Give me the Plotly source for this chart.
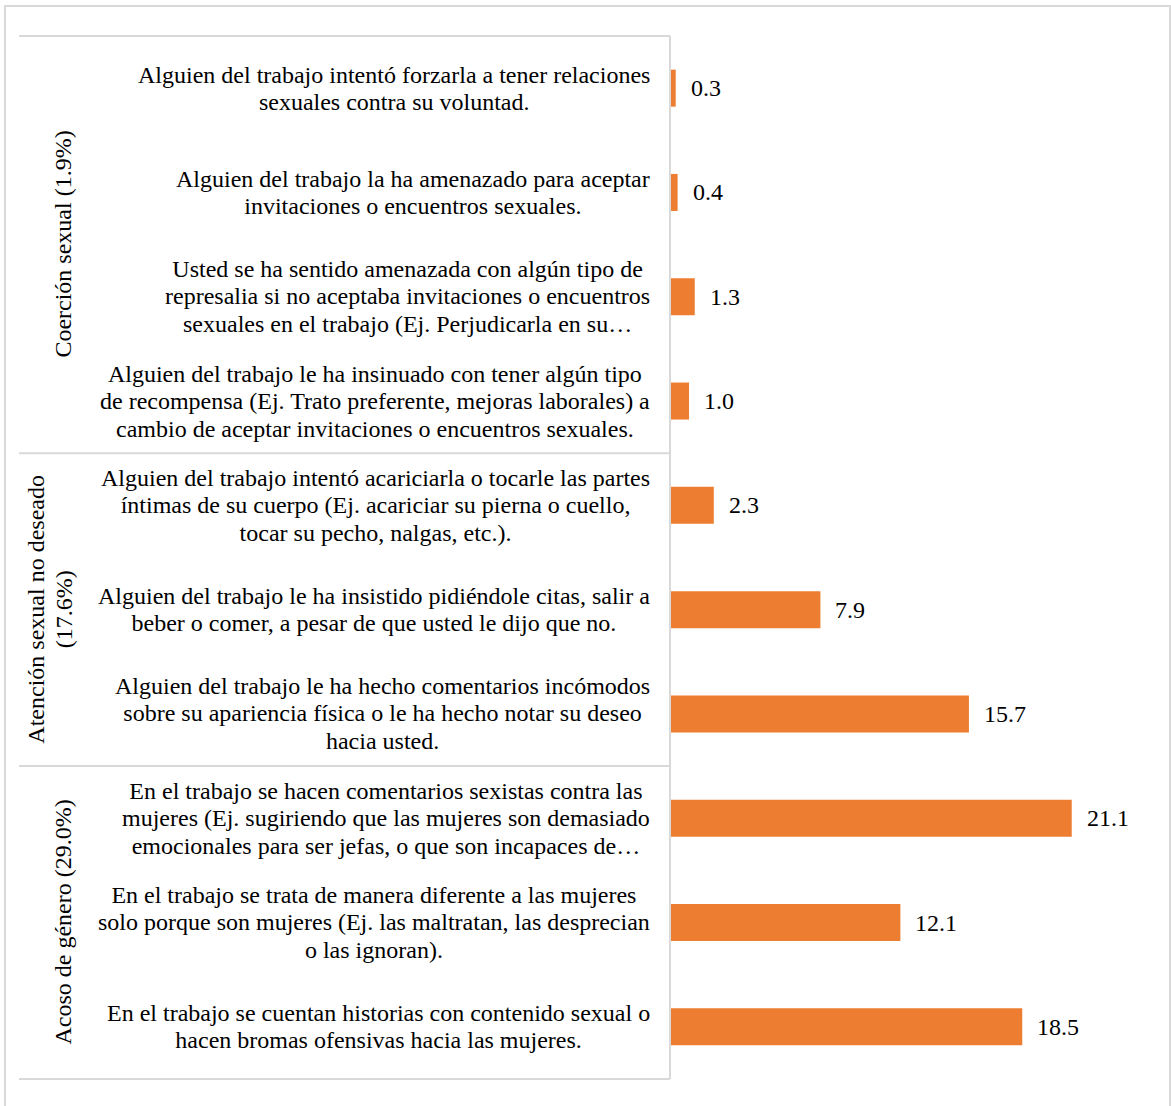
import plotly.graph_objects as go

# Survey items (top to bottom) and the share of women reporting each one (%)
items = [
    "Alguien del trabajo intentó forzarla a tener relaciones<br>sexuales contra su voluntad.",
    "Alguien del trabajo la ha amenazado para aceptar<br>invitaciones o encuentros sexuales.",
    "Usted se ha sentido amenazada con algún tipo de<br>represalia si no aceptaba invitaciones o encuentros<br>sexuales en el trabajo (Ej. Perjudicarla en su…",
    "Alguien del trabajo le ha insinuado con tener algún tipo<br>de recompensa (Ej. Trato preferente, mejoras laborales) a<br>cambio de aceptar invitaciones o encuentros sexuales.",
    "Alguien del trabajo intentó acariciarla o tocarle las partes<br>íntimas de su cuerpo (Ej. acariciar su pierna o cuello,<br>tocar su pecho, nalgas, etc.).",
    "Alguien del trabajo le ha insistido pidiéndole citas, salir a<br>beber o comer, a pesar de que usted le dijo que no.",
    "Alguien del trabajo le ha hecho comentarios incómodos<br>sobre su apariencia física o le ha hecho notar su deseo<br>hacia usted.",
    "En el trabajo se hacen comentarios sexistas contra las<br>mujeres (Ej. sugiriendo que las mujeres son demasiado<br>emocionales para ser jefas, o que son incapaces de…",
    "En el trabajo se trata de manera diferente a las mujeres<br>solo porque son mujeres (Ej. las maltratan, las desprecian<br>o las ignoran).",
    "En el trabajo se cuentan historias con contenido sexual o<br>hacen bromas ofensivas hacia las mujeres.",
]
values = [0.3, 0.4, 1.3, 1.0, 2.3, 7.9, 15.7, 21.1, 12.1, 18.5]

# Groups: label and the number of items belonging to each
groups = ["Coerción sexual (1.9%)", "Atención sexual no deseado<br>(17.6%)", "Acoso de género (29.0%)"]
group_sizes = [4, 3, 3]

W, H = 1171, 1106
FONT = "Liberation Serif"
GRID = "#d9d9d9"
GLYPH = 24      # visible glyph size
LEADING = 21    # base size that sets the line pitch (1.3 em)


def px(x):
    return x / W


def py(y):
    return 1 - y / H


def sized(text):
    # wrap each line so glyphs are larger than the line pitch base
    return "<br>".join(f"<span style='font-size:{GLYPH}px'>{ln}</span>" for ln in text.split("<br>"))


top_px, bottom_px = 36, 1079
left_px, axis_px, right_px = 19, 670, 1146
row_h = (bottom_px - top_px) / len(items)

ids = list(range(len(items)))

fig = go.Figure(
    go.Bar(
        x=values,
        y=ids,
        orientation="h",
        marker=dict(color="#ED7D31", line=dict(width=0)),
        hoverinfo="skip",
    )
)

annotations = []
# Value labels next to each bar
for i, v in zip(ids, values):
    annotations.append(dict(
        x=v, y=i, xref="x", yref="y", text=f"{v:.1f}", showarrow=False,
        xanchor="left", yanchor="middle", xshift=13,
        font=dict(family=FONT, size=GLYPH, color="#000000"),
    ))
# Item labels: centred lines, block right-aligned against the axis
for i, t in zip(ids, items):
    annotations.append(dict(
        x=px(652), y=i, xref="paper", yref="y", text=sized(t), showarrow=False,
        xanchor="right", yanchor="middle", align="center",
        font=dict(family=FONT, size=LEADING, color="#000000"),
    ))

shapes = []
# Outer frame
shapes.append(dict(type="rect", xref="paper", yref="paper",
                   x0=px(5), x1=px(1170), y0=py(1110), y1=py(6),
                   line=dict(color=GRID, width=2), fillcolor="rgba(0,0,0,0)"))
# Horizontal rules: top, between groups, bottom
bounds = [0]
for n in group_sizes:
    bounds.append(bounds[-1] + n)
for b in bounds:
    yb = top_px + b * row_h
    shapes.append(dict(type="line", xref="paper", yref="paper",
                       x0=px(left_px), x1=px(axis_px), y0=py(yb), y1=py(yb),
                       line=dict(color=GRID, width=2)))
# Vertical axis line
shapes.append(dict(type="line", xref="paper", yref="paper",
                   x0=px(axis_px), x1=px(axis_px), y0=py(top_px), y1=py(bottom_px),
                   line=dict(color=GRID, width=2)))

# Rotated group labels
for k, (g, n) in enumerate(zip(groups, group_sizes)):
    yc = top_px + (bounds[k] + n / 2) * row_h
    annotations.append(dict(
        x=px(63 if "<br>" not in g else 50), y=py(yc), xref="paper", yref="paper",
        text=sized(g), showarrow=False, textangle=-90, align="center",
        xanchor="center", yanchor="middle",
        font=dict(family=FONT, size=LEADING, color="#000000"),
    ))

fig.update_layout(
    width=W, height=H,
    margin=dict(l=0, r=0, t=0, b=0),
    paper_bgcolor="white", plot_bgcolor="white",
    bargap=0.645,
    showlegend=False,
    xaxis=dict(domain=[px(axis_px), px(right_px)], range=[0, 25],
               showgrid=False, zeroline=False, showticklabels=False, ticks=""),
    yaxis=dict(domain=[py(bottom_px), py(top_px)], range=[9.5, -0.5],
               showgrid=False, zeroline=False, showticklabels=False, ticks=""),
    annotations=annotations,
    shapes=shapes,
)

fig.write_html("out.html")
